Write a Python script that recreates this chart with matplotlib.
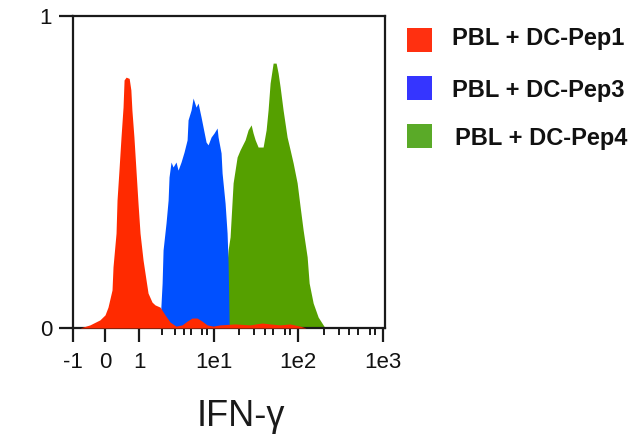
import numpy as np
import matplotlib
matplotlib.use("Agg")
import matplotlib.pyplot as plt
from matplotlib.patches import Rectangle
from matplotlib.ticker import FixedLocator, NullFormatter

plt.rcParams['font.family'] = ['Liberation Sans', 'DejaVu Sans']

# ---- data (fluorescence value, normalised count) ----
red_x = [-0.78, -0.47, -0.16, 0.0, 0.088, 0.206, 0.235, 0.324, 0.353, 0.41, 0.47, 0.53, 0.56,
         0.62, 0.71, 0.76, 0.79, 0.85, 0.91, 0.97, 1.031, 1.131, 1.24, 1.318, 1.49, 1.634, 1.905,
         2.222, 2.59, 3.11, 3.74, 4.37, 5.09, 5.93, 6.92, 8.07, 9.70, 11.8, 17.8, 26.8, 37.3,
         46.4, 61.0, 80.0, 105.0, 124.0]
red_y = [0.0, 0.01, 0.026, 0.042, 0.067, 0.122, 0.196, 0.304, 0.41, 0.506, 0.612, 0.708, 0.795,
         0.804, 0.80, 0.763, 0.699, 0.612, 0.506, 0.40, 0.304, 0.218, 0.154, 0.112, 0.083, 0.074,
         0.067, 0.042, 0.019, 0.006, 0.01, 0.022, 0.032, 0.032, 0.022, 0.01, 0.006, 0.01, 0.013,
         0.01, 0.016, 0.013, 0.01, 0.013, 0.006, 0.0]

blue_x = [1.79, 1.905, 2.03, 2.09, 2.29, 2.44, 2.51, 2.67, 2.84, 3.11, 3.31, 3.63, 3.98, 4.37,
          4.50, 4.94, 5.25, 5.75, 6.12, 6.71, 7.13, 7.82, 8.32, 9.12, 10.0, 10.86, 11.16, 12.11,
          12.45, 13.52, 14.28, 14.68, 14.88, 15.09, 15.3]
blue_y = [0.0, 0.016, 0.144, 0.25, 0.337, 0.41, 0.484, 0.532, 0.516, 0.532, 0.506, 0.532, 0.564,
          0.603, 0.667, 0.699, 0.737, 0.708, 0.721, 0.676, 0.644, 0.596, 0.587, 0.612, 0.625,
          0.641, 0.612, 0.561, 0.497, 0.40, 0.304, 0.208, 0.122, 0.016, 0.0]

green_x = [11.79, 13.15, 14.68, 15.5, 16.84, 18.79, 20.4, 23.4, 25.4, 27.6, 29.1, 30.8, 33.4,
           38.3, 41.6, 43.9, 46.4, 50.4, 54.7, 57.8, 61.1, 66.2, 73.9, 80.3, 87.2, 97.3, 105.6,
           114.5, 127.6, 134.7, 150.2, 171.9, 196.8, 207.8]
green_y = [0.0, 0.09, 0.25, 0.292, 0.465, 0.548, 0.571, 0.603, 0.635, 0.651, 0.625, 0.603, 0.58,
           0.58, 0.635, 0.699, 0.785, 0.849, 0.849, 0.817, 0.772, 0.699, 0.612, 0.571, 0.529,
           0.465, 0.388, 0.314, 0.228, 0.144, 0.08, 0.035, 0.01, 0.0]

labels = ["PBL + DC-Pep1", "PBL + DC-Pep3", "PBL + DC-Pep4"]
xtick_vals = [-1, 0, 1, 10, 100, 1000]
xtick_labels = ["-1", "0", "1", "1e1", "1e2", "1e3"]
minor_mult = [2, 3, 4, 5, 7, 8]
ytick_vals = [0, 1]
ytick_labels = ["0", "1"]

# ---- custom cytometry-like axis scale ----
_dec_pos = np.array([34.0, 109.0, 193.0, 278.0])
_dec_log = np.array([0.0, 1.0, 2.0, 3.0])

def fwd(x):
    x = np.asarray(x, dtype=float)
    lg = np.log10(np.maximum(x, 1e-12))
    pos_log = np.interp(lg, _dec_log, _dec_pos)
    pos_log = np.where(lg > 3, 278.0 + (lg - 3) * 85.0, pos_log)
    lin = np.where(x < 0, x * 32.0, x * 34.0)
    return np.where(x < 1, lin, pos_log)

def inv(p):
    p = np.asarray(p, dtype=float)
    lg = np.interp(p, _dec_pos, _dec_log)
    lg = np.where(p > 278, 3 + (p - 278) / 85.0, lg)
    lin = np.where(p < 0, p / 32.0, p / 34.0)
    return np.where(p < 34, lin, 10 ** lg)

fig = plt.figure(figsize=(6.42, 4.41), dpi=100)
ax = fig.add_axes([73 / 642, 1 - 328 / 441, 312 / 642, 312 / 441])
ax.set_xscale('function', functions=(fwd, inv))

ax.fill_between(green_x, green_y, 0, color='#55a000', lw=0, zorder=1)
ax.fill_between(blue_x, blue_y, 0, color='#0050ff', lw=0, zorder=2)
ax.fill_between(red_x, red_y, 0, color='#ff2a00', lw=0, zorder=3)

ax.set_xlim(-1, 1050)
ax.set_ylim(0, 1)

ax.xaxis.set_major_locator(FixedLocator(xtick_vals))
ax.set_xticklabels(xtick_labels)
minors = [m * 10 ** d for d in range(0, 3) for m in minor_mult]
ax.xaxis.set_minor_locator(FixedLocator(minors))
ax.xaxis.set_minor_formatter(NullFormatter())
ax.set_yticks(ytick_vals)
ax.set_yticklabels(ytick_labels)

for s in ax.spines.values():
    s.set_linewidth(1.6)
    s.set_color('#1a1a1a')
ax.tick_params(axis='both', which='major', length=10, width=1.6, color='#1a1a1a',
               labelsize=16, labelcolor='#111111')
ax.tick_params(axis='x', which='major', pad=7)
ax.tick_params(axis='y', which='major', pad=5)
ax.tick_params(axis='x', which='minor', length=5, width=1.4, color='#1a1a1a')

fig.text(241 / 642, 1 - 417 / 441, "IFN-γ", fontsize=26, ha='center', va='center',
         color='#1a1a1a')

# ---- legend ----
colors_leg = ['#ff3010', '#3535ff', '#5aaa28']
rows_y = [40, 88, 136]
text_x = [452, 452, 455]
text_y = [39, 91, 139]
for i, lab in enumerate(labels):
    fig.add_artist(Rectangle((407 / 642, 1 - (rows_y[i] + 12) / 441), 25 / 642, 24 / 441,
                             transform=fig.transFigure, facecolor=colors_leg[i], lw=0))
    fig.text(text_x[i] / 642, 1 - text_y[i] / 441, lab, fontsize=17, fontweight='bold',
             ha='left', va='center', color='#111111')

fig.savefig("out.png", dpi=100)
